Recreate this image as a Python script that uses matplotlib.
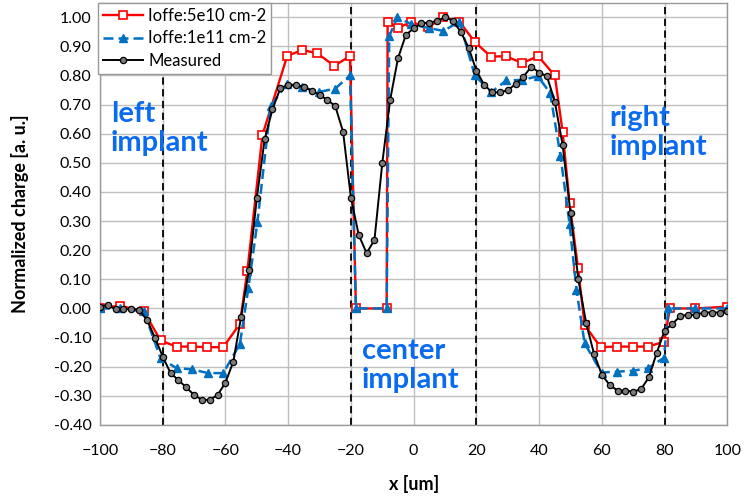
import matplotlib
matplotlib.use("Agg")
import matplotlib.pyplot as plt

plt.rcParams['font.family'] = ['Lato', 'DejaVu Sans']

# Ioffe 5e10 cm-2 (red squares)
x_5e10 = [-100, -93.7, -86, -80.7, -75.6, -70.6, -65.8, -60.7, -55.4, -53, -48.2,
          -40.3, -35.5, -30.7, -25.3, -20.3, -18.4, -8.6, -8.3, -5.1, -0.7, 4.6,
          9.5, 14.6, 19.5, 24.6, 29.4, 34.6, 39.7, 45.0, 47.5, 49.7, 52.4, 54.5,
          59.6, 64.7, 69.8, 74.8, 79.8, 81.7, 89.7, 99.8]
y_5e10 = [0.0, 0.01, -0.01, -0.11, -0.131, -0.131, -0.133, -0.133, -0.053, 0.13, 0.596,
          0.867, 0.888, 0.876, 0.833, 0.867, 0.0, 0.0, 0.985, 0.964, 0.983, 0.965,
          1.0, 0.985, 0.915, 0.865, 0.866, 0.843, 0.866, 0.80, 0.605, 0.363, 0.138, -0.057,
          -0.133, -0.131, -0.131, -0.131, -0.114, 0.0, 0.0, 0.006]

# Ioffe 1e11 cm-2 (blue triangles)
x_1e11 = [-100, -93.7, -86, -80.7, -75.6, -70.6, -65.6, -60.7, -55.4, -52.7, -49.8,
          -45.6, -40.5, -35.5, -30.3, -25, -20.3, -18.4, -8.6, -7.8, -5.2, -0.7,
          4.8, 9.5, 14.6, 19.5, 24.7, 29.5, 34.6, 39.6, 43.5, 46.8, 49.7, 51.9,
          54.5, 59.9, 64.9, 69.8, 74.8, 79.8, 81.2, 89.7, 99.8]
y_1e11 = [0.0, 0.0, -0.01, -0.171, -0.205, -0.209, -0.222, -0.222, -0.122, 0.069, 0.298,
          0.695, 0.77, 0.76, 0.743, 0.755, 0.80, 0.0, 0.0, 0.935, 1.0, 0.976,
          0.963, 0.953, 0.985, 0.80, 0.742, 0.783, 0.785, 0.797, 0.74, 0.525, 0.29, 0.064,
          -0.12, -0.22, -0.217, -0.214, -0.205, -0.169, 0.0, 0.0, 0.0]

# Measured
x_meas = [-100, -97.5, -95, -92.5, -90, -87.5, -85, -82.5, -80, -77.5, -75, -72.5, -70,
          -67.5, -65, -62.5, -60, -57.5, -55, -52.5, -50, -47.5, -45, -42.5, -40,
          -37.5, -35, -32.5, -30, -27.5, -25, -22.5, -20, -17.5, -15, -12.5, -10,
          -7.5, -5, -2.5, 0, 2.5, 5, 7.5, 10, 12.5, 15, 17.5, 20, 22.5, 25, 27.5,
          30, 32.5, 35, 37.5, 40, 42.5, 45, 47.5, 50, 52.5, 55, 57.5, 60, 62.5, 65,
          67.5, 70, 72.5, 75, 77.5, 80, 82.5, 85, 87.5, 90, 92.5, 95, 97.5, 100]
y_meas = [0.005, 0.012, -0.003, -0.003, -0.002, -0.005, -0.04, -0.10, -0.165, -0.222,
          -0.246, -0.271, -0.297, -0.314, -0.314, -0.297, -0.255, -0.183, -0.028, 0.132,
          0.378, 0.581, 0.684, 0.756, 0.768, 0.768, 0.76, 0.748, 0.733, 0.716, 0.695,
          0.607, 0.38, 0.252, 0.19, 0.235, 0.499, 0.716, 0.859, 0.939, 0.962, 0.979,
          0.981, 0.988, 1.0, 0.988, 0.95, 0.896, 0.816, 0.768, 0.742, 0.742, 0.75,
          0.77, 0.796, 0.83, 0.81, 0.797, 0.71, 0.561, 0.327, 0.10, -0.051, -0.156,
          -0.228, -0.263, -0.282, -0.282, -0.286, -0.277, -0.236, -0.152, -0.076,
          -0.053, -0.026, -0.022, -0.022, -0.014, -0.014, -0.014, -0.008]

implant_edges = [-80, -20, 20, 80]
x_ticks = [-100, -80, -60, -40, -20, 0, 20, 40, 60, 80, 100]
y_ticks = [-0.4, -0.3, -0.2, -0.1, 0.0, 0.1, 0.2, 0.3, 0.4, 0.5, 0.6, 0.7, 0.8, 0.9, 1.0]

fig = plt.figure(figsize=(7.46, 4.97), dpi=100)
ax = fig.add_axes([0.134, 0.145, 0.841, 0.8496])

for xe in implant_edges:
    ax.axvline(xe, color='black', lw=1.3, ls=(0, (4, 2.5)), zorder=1.5)

ax.plot(x_5e10, y_5e10, color='#FF0000', lw=1.7, marker='s', ms=6,
        mfc='white', mec='#FF0000', mew=1.2, label='Ioffe:5e10 cm-2', zorder=3)
ax.plot(x_1e11, y_1e11, color='#0070C0', lw=1.8, ls=(0, (4, 2)), marker='^', ms=6,
        mfc='#0070C0', mec='#0070C0', label='Ioffe:1e11 cm-2', zorder=4)
ax.plot(x_meas, y_meas, color='black', lw=1.4, marker='o', ms=4.5,
        mfc='#7a7a7a', mec='black', mew=0.9, label='Measured', zorder=5)

ax.set_xlim(-100, 100)
ax.set_ylim(-0.4, 1.05)
ax.set_xticks(x_ticks)
ax.set_yticks(y_ticks)
ax.set_yticklabels(['%.2f' % v for v in y_ticks])
ax.tick_params(length=0, labelsize=11.5)
ax.tick_params(axis='x', pad=14)
ax.tick_params(axis='y', pad=6)
ax.grid(True, color='#bfbfbf', lw=1.0, zorder=0)
ax.set_axisbelow(True)
for s in ax.spines.values():
    s.set_color('#999999')
    s.set_linewidth(1.0)

ax.set_xlabel('x [um]', fontsize=13, fontweight='bold', labelpad=12)
ax.set_ylabel('Normalized charge [a. u.]', fontsize=13, fontweight='bold', labelpad=18)

txt_color = '#0A6BF0'
ax.text(-96.6, 0.713, 'left\nimplant', color=txt_color, fontsize=21, fontweight='bold',
        va='top', ha='left', linespacing=1.15)
ax.text(62.5, 0.70, 'right\nimplant', color=txt_color, fontsize=21, fontweight='bold',
        va='top', ha='left', linespacing=1.15)
ax.text(-16.6, -0.10, 'center\nimplant', color=txt_color, fontsize=21, fontweight='bold',
        va='top', ha='left', linespacing=1.15)

leg = ax.legend(loc='upper left', bbox_to_anchor=(-0.003, 1.0), borderaxespad=0,
                fontsize=12, frameon=True, fancybox=False, framealpha=1,
                edgecolor='#999999', labelspacing=0.4, handlelength=2.4,
                handletextpad=0.3, borderpad=0.3)
leg.get_frame().set_linewidth(1.0)
leg.set_zorder(10)

fig.savefig('out.png', dpi=100)
